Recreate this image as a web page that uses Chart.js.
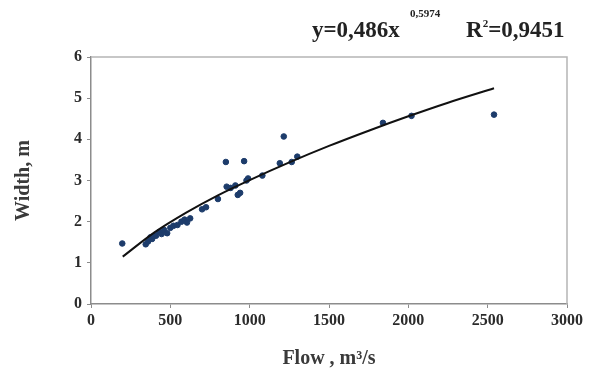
<!DOCTYPE html>
<html>
<head>
<meta charset="utf-8">
<script src="https://cdn.jsdelivr.net/npm/chart.js@4"></script>
<style>
    html, body { margin: 0; padding: 0; background: #fff; }
    #wrap { position: relative; width: 595px; height: 371px; }
    .eq {
        position: absolute; font-family: 'Liberation Serif', serif; font-weight: bold;
        color: #222; white-space: nowrap; line-height: 1;
    }
    #eq-main { left: 312px; top: 18px; font-size: 23px; }
    #eq-pow { left: 410px; top: 8px; font-size: 11px; }
    #eq-r2 { left: 466px; top: 18px; font-size: 23px; }
    #eq-r2 sup { font-size: 11px; vertical-align: 10px; }
</style>
</head>
<body>
<div id="wrap">
    <canvas id="flow-width-chart" width="595" height="371"></canvas>
    <span class="eq" id="eq-main">y=0,486x</span>
    <span class="eq" id="eq-pow">0,5974</span>
    <span class="eq" id="eq-r2">R<sup>2</sup>=0,9451</span>
</div>
<script>
// measured points (flow m3/s, width m)
var flowValues = [197, 345, 360, 375, 385, 395, 410, 430, 445, 460, 480, 500, 520, 545, 570, 590, 605, 625,
    700, 725, 800, 850, 855, 880, 910, 925, 940, 965, 980, 990, 1080, 1190, 1215, 1265, 1300, 1840, 2020, 2540];
var widthValues = [1.47, 1.45, 1.52, 1.62, 1.58, 1.65, 1.66, 1.75, 1.70, 1.80, 1.72, 1.85, 1.90, 1.92, 2.00, 2.05, 1.98, 2.08,
    2.30, 2.35, 2.55, 3.45, 2.85, 2.82, 2.88, 2.65, 2.70, 3.47, 3.00, 3.05, 3.12, 3.42, 4.07, 3.45, 3.58, 4.40, 4.57, 4.60];

// power trend line
var trendFlow = [200, 400, 600, 800, 1000, 1250, 1500, 1750, 2000, 2250, 2540];
var trendWidth = [1.15, 1.74, 2.22, 2.64, 3.01, 3.44, 3.84, 4.21, 4.56, 4.89, 5.24];

var xTicks = [0, 500, 1000, 1500, 2000, 2500, 3000];
var yTicks = [0, 1, 2, 3, 4, 5, 6];

var axisGrey = '#8c8c8c';
var textColor = '#2b2b2b';

var frameBox = {
    id: 'frameBox',
    afterDraw: function (chart) {
        var a = chart.chartArea;
        var ctx = chart.ctx;
        ctx.save();
        ctx.strokeStyle = '#b5b5b5';
        ctx.lineWidth = 1.5;
        ctx.beginPath();
        ctx.moveTo(a.left, a.top);
        ctx.lineTo(a.right, a.top);
        ctx.lineTo(a.right, a.bottom);
        ctx.stroke();
        ctx.restore();
    },
};

var tickFont = { family: 'Liberation Serif', size: 16, weight: 'bold' };
var titleFont = { family: 'Liberation Serif', size: 20, weight: 'bold' };

new Chart(document.getElementById('flow-width-chart'), {
    type: 'scatter',
    data: {
        datasets: [
            {
                label: 'Width',
                data: flowValues.map(function (f, i) { return { x: f, y: widthValues[i] }; }),
                backgroundColor: '#1d3c6b',
                borderColor: '#1d3c6b',
                pointRadius: 2.8,
                order: 2,
            },
            {
                label: 'Power trend',
                data: trendFlow.map(function (f, i) { return { x: f, y: trendWidth[i] }; }),
                showLine: true,
                borderColor: '#111',
                borderWidth: 2,
                pointRadius: 0,
                cubicInterpolationMode: 'monotone',
                order: 1,
            },
        ],
    },
    options: {
        responsive: false,
        animation: false,
        layout: { padding: { top: 57, right: 28, left: 0, bottom: 0 } },
        scales: {
            x: {
                type: 'linear',
                min: 0,
                max: 3000,
                afterBuildTicks: function (scale) {
                    scale.ticks = xTicks.map(function (v) { return { value: v }; });
                },
                afterFit: function (scale) { scale.height = 67; },
                grid: { drawOnChartArea: false, color: axisGrey, tickLength: 4 },
                border: { color: axisGrey, width: 1.5 },
                ticks: {
                    color: textColor, font: tickFont, padding: 3, maxRotation: 0,
                    callback: function (v) { return String(v); },
                },
                title: { display: true, text: 'Flow , m³/s', color: '#3a3a3a', font: titleFont, padding: { top: 8, bottom: 0 } },
            },
            y: {
                min: 0,
                max: 6,
                afterBuildTicks: function (scale) {
                    scale.ticks = yTicks.map(function (v) { return { value: v }; });
                },
                afterFit: function (scale) { scale.width = 91; },
                grid: { drawOnChartArea: false, color: axisGrey, tickLength: 4 },
                border: { color: axisGrey, width: 1.5 },
                ticks: { color: textColor, font: tickFont, padding: 5 },
                title: { display: true, text: 'Width, m', color: '#3a3a3a', font: titleFont, padding: { top: 12, bottom: 0 } },
            },
        },
        plugins: {
            legend: { display: false },
            tooltip: { enabled: false },
        },
    },
    plugins: [frameBox],
});
</script>
</body>
</html>
